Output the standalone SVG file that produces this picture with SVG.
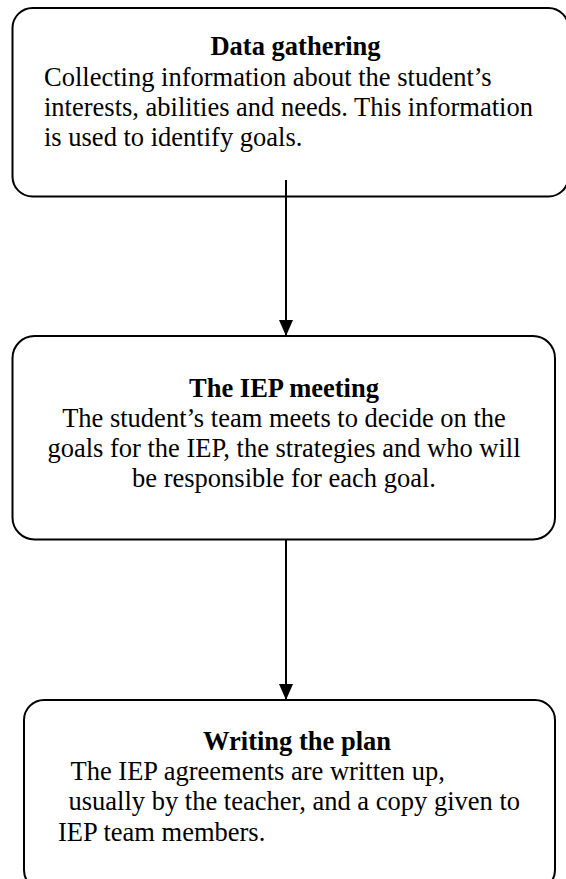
<svg xmlns="http://www.w3.org/2000/svg" width="566" height="879" viewBox="0 0 566 879">
  <style>
    .box { fill: #ffffff; stroke: #000000; stroke-width: 2; }
    .title { font-family: "Liberation Serif", "Times New Roman", serif; font-size: 26.5px; font-weight: bold; fill: #000000; text-anchor: middle; }
    .body { font-family: "Liberation Serif", "Times New Roman", serif; font-size: 26.5px; fill: #000000; }
    .mid { text-anchor: middle; }
    .conn { stroke: #000000; stroke-width: 2; fill: none; }
  </style>
  <defs>
    <marker id="arrow" viewBox="0 0 16 14" refX="16" refY="7" markerWidth="16" markerHeight="14" markerUnits="userSpaceOnUse" orient="auto">
      <path d="M0,0 L16,7 L0,14 Z" fill="#000000"/>
    </marker>
  </defs>
  <rect width="566" height="879" fill="#ffffff"/>

  <g id="node-data-gathering">
    <rect class="box" x="12.5" y="8" width="556" height="188.5" rx="20" ry="20"/>
    <text class="title" x="295.5" y="55">Data gathering</text>
    <text class="body" x="44" y="86">Collecting information about the student’s</text>
    <text class="body" x="44" y="116">interests, abilities and needs. This information</text>
    <text class="body" x="44" y="146">is used to identify goals.</text>
  </g>

  <g id="node-iep-meeting">
    <rect class="box" x="12.5" y="336" width="542.5" height="203.5" rx="22" ry="22"/>
    <text class="title" x="284" y="397">The IEP meeting</text>
    <text class="body mid" x="284" y="427">The student’s team meets to decide on the</text>
    <text class="body mid" x="284" y="457">goals for the IEP, the strategies and who will</text>
    <text class="body mid" x="284" y="487">be responsible for each goal.</text>
  </g>

  <g id="node-writing-plan">
    <rect class="box" x="24" y="700" width="531" height="190" rx="20" ry="20"/>
    <text class="title" x="297" y="750">Writing the plan</text>
    <text class="body" x="70.5" y="780">The IEP agreements are written up,</text>
    <text class="body" x="68.5" y="810">usually by the teacher, and a copy given to</text>
    <text class="body" x="58" y="841">IEP team members.</text>
  </g>

  <g id="connectors">
    <line class="conn" x1="286" y1="180" x2="286" y2="336" marker-end="url(#arrow)"/>
    <line class="conn" x1="286" y1="539.5" x2="286" y2="700" marker-end="url(#arrow)"/>
  </g>
</svg>
